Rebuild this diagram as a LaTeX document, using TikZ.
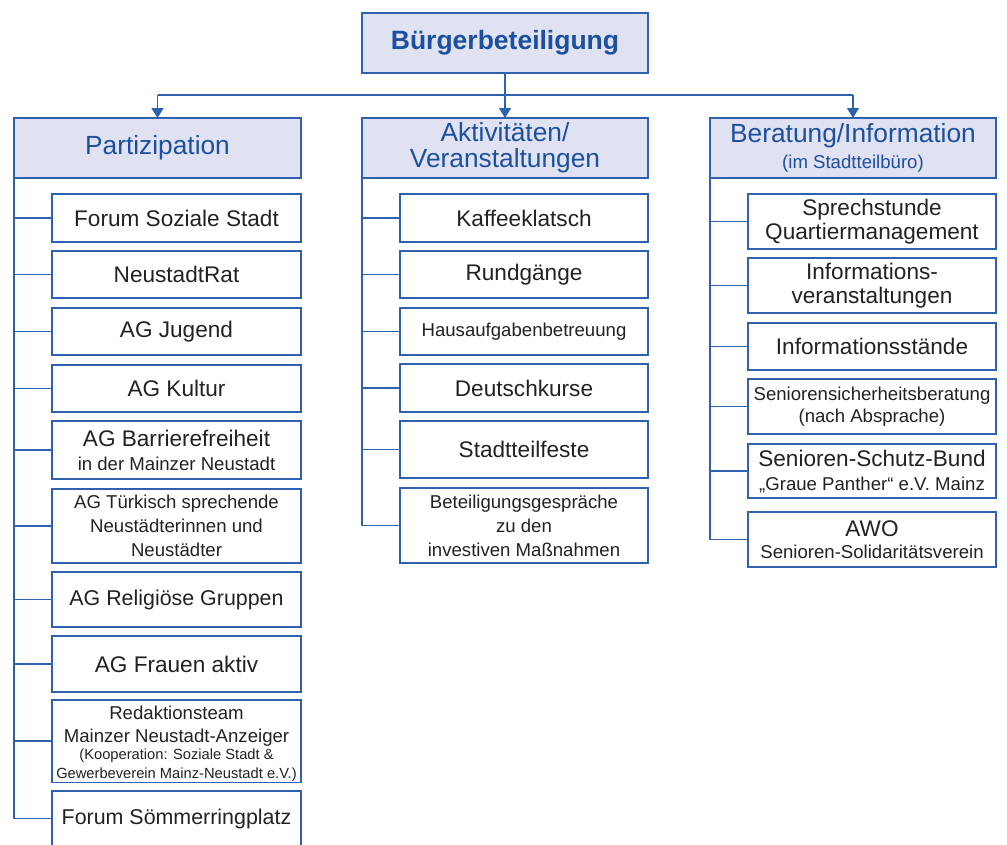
\documentclass[tikz,border=0pt]{standalone}
\usepackage{fontspec}
\setmainfont{Liberation Sans}
\usetikzlibrary{arrows.meta}
\definecolor{lineblue}{HTML}{2F62AE}
\definecolor{headblue}{HTML}{1C4F9E}
\definecolor{headfill}{HTML}{E0E2F2}
\definecolor{txt}{HTML}{222222}
\newcommand\fsA{\fontsize{22.6}{24}\selectfont}
\newcommand\fsB{\fontsize{18.6}{24}\selectfont}
\newcommand\fsC{\fontsize{14.7}{19}\selectfont}
\newcommand\fsR{\fontsize{21.4}{24}\selectfont}
\newcommand\fsH{\fontsize{26.3}{25.7}\selectfont}
\begin{document}
\begin{tikzpicture}[x=1pt,y=-1pt,
  boxbase/.style={draw=lineblue, line width=1.5pt, inner sep=0pt, outer sep=0pt, align=center},
  topbox/.style={boxbase, fill=headfill, text=headblue, font=\fontsize{26.5}{26}\selectfont\bfseries, minimum width=286pt, minimum height=60pt},
  headbox/.style={boxbase, fill=headfill, text=headblue, font=\fsH, minimum width=286pt, minimum height=60pt},
  childbox/.style={boxbase, fill=white, text=txt, font=\fsA, minimum width=248pt},
  conn/.style={draw=lineblue, line width=1.5pt},
  arr/.style={conn, -{Triangle[length=10pt,width=12pt]}}
]
\path[use as bounding box] (0,0) rectangle (1007,844);
\clip (0,0) rectangle (1007,844);

% top and headers
\node[topbox] (top) at (505,43) {Bürgerbeteiligung};
\node[headbox, minimum width=287pt] (hP) at (157.5,148) {Partizipation};
\node[headbox] (hA) at (505,148) {Aktivitäten/\\Veranstaltungen};
\node[headbox] (hB) at (853,148) {Beratung/Information\\{\fsB (im Stadtteilbüro)}};

% Partizipation children
\node[childbox, minimum width=249pt, minimum height=48pt] (p1) at (176.5,218) {Forum Soziale Stadt};
\node[childbox, minimum width=249pt, minimum height=47pt] (p2) at (176.5,274.5) {NeustadtRat};
\node[childbox, minimum width=249pt, minimum height=47pt] (p3) at (176.5,331.5) {AG Jugend};
\node[childbox, minimum width=249pt, minimum height=47pt] (p4) at (176.5,388.5) {AG Kultur};
\node[childbox, minimum width=249pt, minimum height=58pt] (p5) at (176.5,450) {AG Barrierefreiheit\\{\fsB in der Mainzer Neustadt}};
\node[childbox, minimum width=249pt, minimum height=74pt, font=\fsB] (p6) at (176.5,526) {AG Türkisch sprechende\\Neustädterinnen und\\Neustädter};
\node[childbox, minimum width=249pt, minimum height=55pt, font=\fsR] (p7) at (176.5,599.5) {AG Religiöse Gruppen};
\node[childbox, minimum width=249pt, minimum height=56pt] (p8) at (176.5,664) {AG Frauen aktiv};
\node[childbox, minimum width=249pt, minimum height=82pt, font=\fsB, text height=79pt, text depth=3.5pt] (p9) at (176.5,741) {Redaktionsteam\\[-1pt]Mainzer Neustadt-Anzeiger\\[-7pt]{\fsC (Kooperation: Soziale Stadt \&}\\[-5pt]{\fsC Gewerbeverein Mainz-Neustadt e.V.)}};
\node[childbox, minimum width=249pt, minimum height=55pt, font=\fsR] (p10) at (176.5,818.5) {Forum Sömmerringplatz};

% Aktivitaeten children
\node[childbox, minimum height=48pt] (a1) at (524,218) {Kaffeeklatsch};
\node[childbox, minimum height=47pt] (a2) at (524,274.5) {Rundgänge};
\node[childbox, minimum height=47pt, font=\fsB] (a3) at (524,331.5) {Hausaufgabenbetreuung};
\node[childbox, minimum height=48pt] (a4) at (524,388) {Deutschkurse};
\node[childbox, minimum height=57pt] (a5) at (524,449.5) {Stadtteilfeste};
\node[childbox, minimum height=75pt, font=\fsB] (a6) at (524,525.5) {Beteiligungsgespräche\\zu den\\investiven Maßnahmen};

% Beratung children
\node[childbox, minimum height=55pt] (b1) at (872,221.5) {Sprechstunde\\Quartiermanagement};
\node[childbox, minimum height=55pt] (b2) at (872,285.5) {Informations-\\veranstaltungen};
\node[childbox, minimum height=47pt] (b3) at (872,346.5) {Informationsstände};
\node[childbox, minimum height=55pt, font=\fsB] (b4) at (872,406.5) {Seniorensicherheitsberatung\\[-2pt](nach Absprache)};
\node[childbox, minimum height=54pt] (b5) at (872,471) {Senioren-Schutz-Bund\\{\fsB „Graue Panther“ e.V. Mainz}};
\node[childbox, minimum height=55pt] (b6) at (872,539.5) {AWO\\[-2pt]{\fsB Senioren-Solidaritätsverein}};

% bus and arrows
\coordinate (bus) at (0,95);
\draw[conn] (top.south) -- (top.south |- bus);
\draw[conn] (hP.north |- bus) -- (hB.north |- bus);
\draw[arr] (hP.north |- bus) -- (hP.north);
\draw[arr] (hA.north |- bus) -- (hA.north);
\draw[arr] (hB.north |- bus) -- (hB.north);

% trees
\foreach \c in {p1,p2,p3,p4,p5,p6,p7,p8,p9,p10}
  \draw[conn] (hP.south west) |- (\c.west);
\foreach \c in {a1,a2,a3,a4,a5,a6}
  \draw[conn] (hA.south west) |- (\c.west);
\foreach \c in {b1,b2,b3,b4,b5,b6}
  \draw[conn] (hB.south west) |- (\c.west);
\end{tikzpicture}
\end{document}
